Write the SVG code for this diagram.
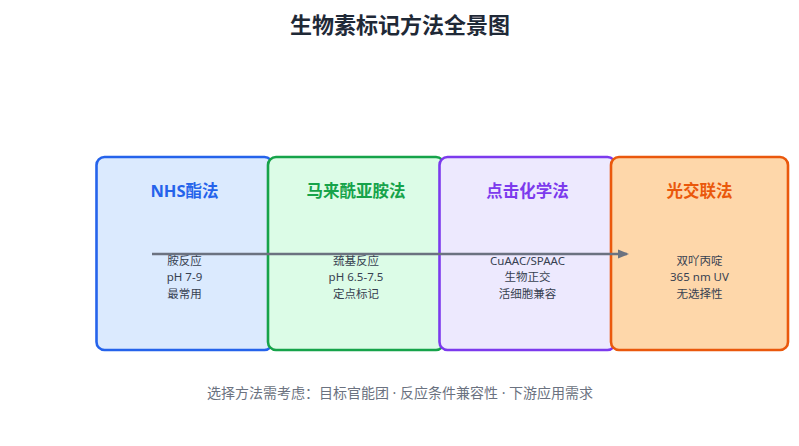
<svg xmlns="http://www.w3.org/2000/svg" width="799" height="446" viewBox="0 0 799 446">
  <style>
    text { font-family: "Noto Sans", "Noto Sans CJK SC", sans-serif; text-anchor: middle; }
    .title { font-size: 22px; font-weight: 700; fill: #1f2937; }
    .box { stroke-width: 2.6; }
    .head { font-size: 16.5px; font-weight: 700; }
    .body { font-size: 11.5px; fill: #374151; }
    .foot { font-size: 14px; fill: #6b7280; }
    .conn { stroke: #6b7280; stroke-width: 2.6; fill: none; }
  </style>
  <defs>
    <marker id="arrow" markerWidth="12" markerHeight="12" refX="9" refY="6" orient="auto" markerUnits="userSpaceOnUse">
      <path d="M0,1.5 L11,6 L0,10.5 Z" fill="#6b7280"/>
    </marker>
  </defs>
  <rect width="799" height="446" fill="#ffffff"/>
  <text class="title" x="400" y="33">生物素标记方法全景图</text>

  <g id="node-nhs">
    <rect class="box" x="96.5" y="157" width="176" height="193" rx="8" fill="#dbeafe" stroke="#2563eb"/>
    <text class="head" x="184.5" y="197" fill="#2563eb">NHS酯法</text>
    <text class="body" x="184.5" y="264.5">胺反应</text>
    <text class="body" x="184.5" y="281">pH 7-9</text>
    <text class="body" x="184.5" y="297.5">最常用</text>
  </g>
  <g id="node-maleimide">
    <rect class="box" x="268" y="157" width="176" height="193" rx="8" fill="#dcfce7" stroke="#16a34a"/>
    <text class="head" x="356" y="197" fill="#16a34a">马来酰亚胺法</text>
    <text class="body" x="356" y="264.5">巯基反应</text>
    <text class="body" x="356" y="281">pH 6.5-7.5</text>
    <text class="body" x="356" y="297.5">定点标记</text>
  </g>
  <g id="node-click">
    <rect class="box" x="439.5" y="157" width="176" height="193" rx="8" fill="#ede9fe" stroke="#7c3aed"/>
    <text class="head" x="527.5" y="197" fill="#7c3aed">点击化学法</text>
    <text class="body" x="527.5" y="264.5">CuAAC/SPAAC</text>
    <text class="body" x="527.5" y="281">生物正交</text>
    <text class="body" x="527.5" y="297.5">活细胞兼容</text>
  </g>
  <g id="node-photo">
    <rect class="box" x="611" y="157" width="177" height="193" rx="8" fill="#fed7aa" stroke="#ea580c"/>
    <text class="head" x="699.5" y="197" fill="#ea580c">光交联法</text>
    <text class="body" x="699.5" y="264.5">双吖丙啶</text>
    <text class="body" x="699.5" y="281">365 nm UV</text>
    <text class="body" x="699.5" y="297.5">无选择性</text>
  </g>

  <g id="connectors">
    <line class="conn" x1="152" y1="254" x2="627" y2="254" marker-end="url(#arrow)"/>
  </g>

  <text class="foot" x="400" y="398">选择方法需考虑：目标官能团 · 反应条件兼容性 · 下游应用需求</text>
</svg>
